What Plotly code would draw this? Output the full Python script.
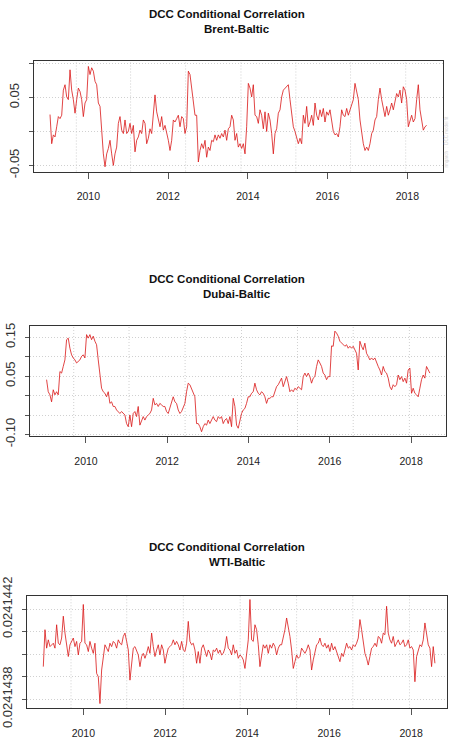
import numpy as np
import pandas as pd
import plotly.graph_objects as go

# ---------------- data ----------------
brent_corr = [0.025,-0.018,-0.005,-0.008,0.007,0.022,0.019,0.024,0.061,0.069,
0.051,0.047,0.091,0.061,0.047,0.027,0.047,0.064,0.059,0.047,
0.022,0.042,0.047,0.096,0.084,0.094,0.089,0.074,0.069,0.042,
0.037,-0.003,-0.033,-0.052,-0.033,-0.025,-0.013,-0.033,-0.050,-0.033,
-0.023,0.012,0.022,0.002,-0.003,0.017,-0.003,0.000,0.012,-0.003,
0.009,-0.030,-0.013,-0.008,0.002,-0.003,0.017,0.012,-0.018,-0.010,
0.004,-0.003,0.024,0.054,0.029,0.017,0.007,0.022,0.002,0.009,
0.000,-0.013,-0.028,-0.013,0.017,0.014,0.019,0.024,0.007,0.022,
0.019,-0.003,0.007,0.089,0.084,0.064,0.051,0.024,0.024,-0.045,
-0.028,-0.018,-0.025,-0.013,-0.038,-0.023,-0.028,-0.013,-0.015,-0.005,
-0.013,-0.005,-0.010,-0.003,-0.008,0.002,-0.013,0.004,0.007,0.024,
0.017,-0.013,-0.003,-0.023,-0.018,-0.025,-0.018,-0.033,0.007,0.071,
0.064,0.051,0.069,0.024,0.022,0.012,0.032,0.024,0.004,0.029,
0.000,0.027,0.017,-0.003,-0.033,-0.003,0.004,0.027,0.032,0.051,
0.061,0.064,0.066,0.069,0.047,0.022,0.007,0.000,-0.008,-0.018,
-0.010,-0.018,0.024,0.012,0.037,0.007,0.014,0.024,0.009,0.042,
0.024,0.017,0.032,0.022,0.034,0.014,0.029,0.024,0.032,0.012,
0.000,-0.005,-0.003,-0.008,0.007,0.032,0.024,0.022,0.034,0.024,
0.032,0.037,0.047,0.071,0.061,0.047,0.017,-0.003,-0.018,-0.028,
-0.023,-0.028,-0.018,-0.003,0.002,0.017,0.022,0.047,0.064,0.047,
0.032,0.022,0.037,0.024,0.032,0.042,0.032,0.047,0.056,0.051,
0.061,0.042,0.066,0.061,0.047,0.007,0.017,0.024,0.014,0.019,
0.047,0.069,0.032,0.017,0.002,0.007,0.009]

dubai_corr = [0.041,0.010,0.002,-0.016,0.015,0.002,0.010,0.002,0.062,0.058,
0.075,0.092,0.144,0.148,0.122,0.105,0.097,0.092,0.084,0.088,
0.092,0.101,0.105,0.097,0.157,0.148,0.157,0.144,0.153,0.140,
0.131,0.092,0.053,0.019,0.010,0.006,-0.003,0.010,-0.020,-0.016,
-0.028,-0.028,-0.037,-0.041,-0.046,-0.041,-0.046,-0.050,-0.072,-0.080,
-0.050,-0.080,-0.046,-0.041,-0.054,-0.028,-0.076,-0.063,-0.054,-0.063,
-0.054,-0.050,-0.046,-0.037,-0.007,-0.024,-0.020,-0.028,-0.020,-0.024,
-0.028,-0.028,-0.041,-0.046,-0.033,-0.020,-0.003,-0.016,-0.020,-0.037,
-0.046,-0.041,-0.028,-0.020,0.010,0.032,0.028,0.019,0.006,-0.003,
-0.072,-0.072,-0.080,-0.093,-0.080,-0.072,-0.076,-0.063,-0.072,-0.063,
-0.054,-0.063,-0.067,-0.054,-0.059,-0.054,-0.072,-0.063,-0.059,-0.072,
-0.054,-0.080,-0.007,-0.028,-0.076,-0.084,-0.063,-0.046,-0.037,-0.033,
-0.020,-0.003,-0.003,0.006,0.010,0.032,0.015,0.006,0.002,0.010,
0.006,-0.003,-0.020,-0.007,-0.007,-0.003,-0.003,0.010,0.023,0.028,
0.036,0.045,0.023,0.036,0.049,0.032,0.010,0.015,0.010,0.019,
0.015,0.023,0.019,0.015,0.049,0.058,0.049,0.058,0.049,0.032,
0.045,0.049,0.075,0.092,0.084,0.075,0.058,0.053,0.041,0.049,
0.049,0.128,0.127,0.166,0.161,0.153,0.140,0.135,0.131,0.127,
0.131,0.122,0.127,0.122,0.127,0.118,0.109,0.066,0.140,0.127,
0.118,0.135,0.109,0.101,0.092,0.097,0.092,0.097,0.084,0.075,
0.066,0.053,0.075,0.062,0.058,0.045,0.023,0.015,0.028,0.023,
0.028,0.053,0.041,0.049,0.036,0.045,0.032,0.066,0.071,0.006,
0.019,0.006,0.002,-0.003,0.019,0.041,0.053,0.045,0.075,0.066,
0.058]

# WTI-Baltic: deviation from 0.0241440, in units of 1e-7
wti_base = 0.0241440
wti_dev_e7 = [-0.55,1.09,0.27,0.64,0.34,0.42,0.49,0.27,1.31,0.49,
0.42,0.72,1.69,0.94,0.49,-0.10,0.42,0.57,0.72,0.34,
0.57,-0.03,0.49,0.57,2.21,0.49,0.42,0.12,0.57,0.27,
0.04,0.49,-0.85,-1.00,-2.19,-0.70,-0.10,0.42,0.27,0.12,
0.49,0.34,0.57,0.49,0.27,0.64,0.49,0.42,0.79,0.94,
0.57,0.19,-1.15,-0.25,0.27,0.34,0.19,-0.03,-0.55,-0.10,
0.04,-0.18,0.04,0.34,0.04,0.94,0.34,-0.10,0.19,0.42,
-0.03,0.42,0.19,-0.40,-0.03,0.27,0.34,0.42,0.64,0.42,
0.57,0.42,0.19,0.57,0.19,0.12,0.49,1.46,0.57,0.42,
0.49,0.19,-0.40,0.12,-0.40,0.27,0.42,0.12,-0.10,0.19,
0.04,-0.25,0.19,0.12,0.27,0.04,0.19,-0.03,0.04,0.27,
0.79,0.27,0.19,-0.03,0.42,0.04,0.19,-0.18,-0.03,-0.10,
-0.25,-0.63,-0.10,0.64,2.43,0.64,0.57,1.31,1.09,0.42,
-0.55,-0.10,0.42,0.27,0.42,0.04,0.42,0.27,0.49,0.34,
-0.03,0.27,0.42,0.42,0.72,1.09,1.61,1.24,0.79,0.19,
-0.63,-0.33,-0.03,-0.18,-0.10,0.27,0.12,0.04,0.19,0.42,
0.19,-0.70,-0.25,0.04,0.42,0.49,0.72,0.42,0.34,0.49,
0.27,0.42,0.12,0.49,0.19,0.34,0.12,-0.10,-0.33,0.04,
-0.10,0.19,0.49,0.27,0.34,0.19,0.42,0.34,0.49,0.72,
1.54,1.09,0.42,0.04,-0.18,-0.48,-0.10,0.27,0.34,0.49,
0.34,0.79,0.72,0.49,0.94,0.87,2.13,0.94,0.64,0.49,
0.79,0.34,0.49,0.64,0.42,0.49,0.64,0.34,0.42,0.64,
0.27,0.34,0.19,-1.22,-0.10,0.19,0.42,0.34,0.64,1.39,
0.94,0.42,0.27,-0.55,0.34,-0.40]

brent_dates = pd.date_range("2009-01-15", "2018-06-27", periods=len(brent_corr))
dubai_dates = pd.date_range("2009-01-12", "2018-06-19", periods=len(dubai_corr))
wti_dates = pd.date_range("2009-01-09", "2018-08-01", periods=len(wti_dev_e7))
wti_corr = wti_base + np.array(wti_dev_e7) * 1e-7

year_ticks = ["2010-01-01", "2012-01-01", "2014-01-01", "2016-01-01", "2018-01-01"]
year_labels = ["2010", "2012", "2014", "2016", "2018"]
grid_dates = ["2009-09-13", "2011-01-23", "2012-06-10", "2013-10-30",
              "2015-03-17", "2016-07-30", "2017-12-17"]

brent_yticks = [-0.05, 0.0, 0.05, 0.10]
brent_ytext = ["-0.05", "", "0.05", ""]
dubai_yticks = [-0.10, -0.05, 0.0, 0.05, 0.10, 0.15]
dubai_ytext = ["-0.10", "", "", "0.05", "", "0.15"]
wti_yticks = [0.0241438, 0.0241439, 0.0241440, 0.0241441, 0.0241442]
wti_ytext = ["0.0241438", "", "", "", "0.0241442"]

pair_names = ["Brent-Baltic", "Dubai-Baltic", "WTI-Baltic"]
title_main = "DCC Conditional Correlation"

# ---------------- figure ----------------
W, H = 451, 742
LINE = "rgba(218,25,25,0.9)"
GRID = "#d0d0d0"
BOX = "#333333"
FONT = "Liberation Sans, Arial, sans-serif"

panels = [
    dict(x=brent_dates, y=brent_corr, xdom=(34.3, 442.7), ytop=61, ybot=171.5,
         xr=["2008-08-24", "2018-11-21"], yr=[-0.059, 0.104],
         tv=brent_yticks, tt=brent_ytext, t1=14, t2=29),
    dict(x=dubai_dates, y=dubai_corr, xdom=(30, 446), ytop=325.7, ybot=436,
         xr=["2008-08-16", "2018-11-11"], yr=[-0.104, 0.180],
         tv=dubai_yticks, tt=dubai_ytext, t1=279, t2=294),
    dict(x=wti_dates, y=wti_corr, xdom=(26.7, 446.7), ytop=595.7, ybot=708.3,
         xr=["2008-08-14", "2018-11-14"], yr=[0.02414376, 0.02414426],
         tv=wti_yticks, tt=wti_ytext, t1=547, t2=562),
]

fig = go.Figure()
annotations = []
shapes = []
for i, p in enumerate(panels):
    n = "" if i == 0 else str(i + 1)
    xa, ya = "x" + n, "y" + n
    fig.add_trace(go.Scatter(x=p["x"], y=p["y"], mode="lines",
                             line=dict(color=LINE, width=0.9),
                             xaxis=xa, yaxis=ya, showlegend=False,
                             hoverinfo="skip"))
    fig.layout["xaxis" + n] = dict(
        domain=[p["xdom"][0] / W, p["xdom"][1] / W], anchor=ya, automargin=False,
        range=p["xr"], type="date", tickvals=year_ticks, ticktext=year_labels,
        ticks="outside", ticklen=6, tickcolor="#555", tickwidth=1,
        showline=True, linecolor=BOX, linewidth=1, mirror=True,
        showgrid=False, zeroline=False, fixedrange=True,
        tickfont=dict(family=FONT, size=10.5, color="#222"),
        ticklabelstandoff=9)
    fig.layout["yaxis" + n] = dict(
        domain=[1 - p["ybot"] / H, 1 - p["ytop"] / H], anchor=xa, automargin=False,
        range=p["yr"], tickvals=p["tv"], ticktext=p["tt"],
        ticks="outside", ticklen=4, tickcolor="#555", tickwidth=1,
        tickangle=-90, showline=True, linecolor=BOX, linewidth=1, mirror=True,
        showgrid=True, gridcolor=GRID, gridwidth=1, griddash="1px,2px",
        zeroline=False, fixedrange=True,
        tickfont=dict(family=FONT, size=13, color="#333"),
        ticklabelstandoff=5)
    for gd in grid_dates:
        shapes.append(dict(type="line", xref=xa, yref=ya + " domain",
                           x0=gd, x1=gd, y0=0, y1=1, layer="below",
                           line=dict(color=GRID, width=1, dash="1px,2px")))
    annotations.append(dict(text="<b>" + title_main + "</b>", xref="paper", yref="paper",
                            x=227 / W, y=1 - p["t1"] / H, showarrow=False,
                            xanchor="center", yanchor="middle",
                            font=dict(family=FONT, size=11.5, color="#111")))
    annotations.append(dict(text="<b>" + pair_names[i] + "</b>", xref="paper", yref="paper",
                            x=237 / W, y=1 - p["t2"] / H, showarrow=False,
                            xanchor="center", yanchor="middle",
                            font=dict(family=FONT, size=11.5, color="#111")))

annotations.append(dict(text="rmgarch  :  DCC model fit", xref="paper", yref="paper",
                        x=445.5 / W, y=1 - 142 / H, showarrow=False, textangle=-90,
                        xanchor="center", yanchor="middle",
                        font=dict(family=FONT, size=4.5, color="#d2d2d2")))

fig.update_layout(width=W, height=H, autosize=False,
                  margin=dict(l=0, r=0, t=0, b=0, pad=0),
                  paper_bgcolor="white", plot_bgcolor="white",
                  annotations=annotations, shapes=shapes, showlegend=False)

fig.write_html("out.html", config={"displayModeBar": False},
               post_script="document.body.style.margin='0';document.body.style.padding='0';")
